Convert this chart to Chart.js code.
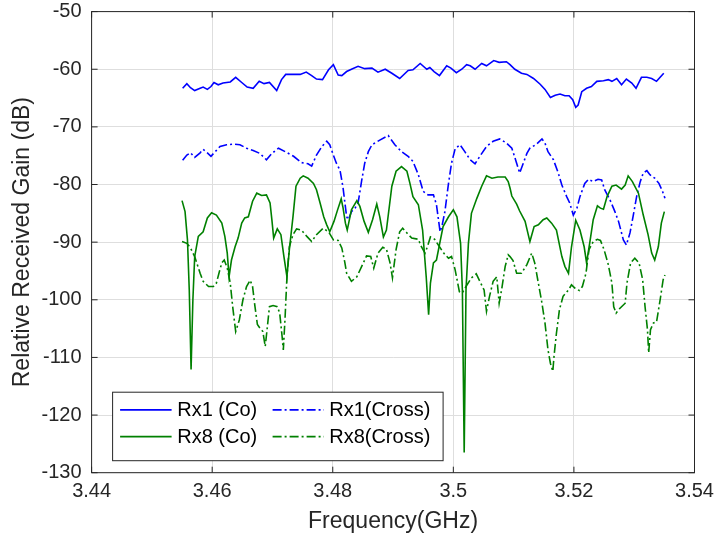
<!DOCTYPE html>
<html>
<head>
<meta charset="utf-8">
<script src="https://cdn.jsdelivr.net/npm/chart.js@4/dist/chart.umd.min.js"></script>
<style>
  body { margin: 0; background: #fff; }
  #wrap { width: 716px; height: 544px; }
</style>
</head>
<body>
<div id="wrap"><canvas id="mycanvas" width="716" height="544"></canvas></div>
<script>
// tick values
var xTicks = [3.44, 3.46, 3.48, 3.50, 3.52, 3.54];
var yTicks = [-130, -120, -110, -100, -90, -80, -70, -60, -50];

// Rx1 (Co)
var rx1CoFreq = [3.4551,3.4558,3.4564,3.4571,3.4580,3.4585,3.4592,3.4598,3.4603,3.4610,3.4618,3.4630,3.4639,3.4649,3.4658,3.4668,3.4678,3.4686,3.4695,3.4707,3.4715,3.4722,3.4735,3.4746,3.4756,3.4765,3.4773,3.4783,3.4793,3.4801,3.4809,3.4815,3.4823,3.4831,3.4842,3.4853,3.4865,3.4875,3.4887,3.4898,3.4911,3.4925,3.4933,3.4945,3.4956,3.4961,3.4968,3.4977,3.4989,3.4996,3.5005,3.5014,3.5022,3.5028,3.5036,3.5047,3.5055,3.5067,3.5076,3.5088,3.5094,3.5102,3.5113,3.5122,3.5133,3.5144,3.5152,3.5161,3.5169,3.5177,3.5185,3.5192,3.5198,3.5203,3.5207,3.5213,3.5221,3.5229,3.5238,3.5249,3.5257,3.5263,3.5271,3.5279,3.5287,3.5296,3.5303,3.5312,3.5321,3.5329,3.5337,3.5349];
var rx1CoGain = [-63.3,-62.5,-63.2,-63.7,-63.3,-63.1,-63.5,-63.0,-62.3,-62.7,-62.4,-62.2,-61.4,-62.3,-63.1,-63.3,-62.1,-62.5,-62.3,-63.7,-61.8,-60.9,-60.9,-60.9,-60.5,-61.1,-61.7,-61.8,-60.1,-59.2,-61.0,-61.1,-60.4,-60.0,-59.5,-59.9,-59.8,-60.5,-60.0,-60.7,-61.6,-60.2,-60.1,-59.0,-60.0,-59.7,-60.4,-61.1,-59.4,-59.8,-60.6,-60.0,-59.2,-59.4,-60.0,-59.0,-59.4,-58.5,-58.8,-58.7,-59.2,-60.0,-60.7,-60.9,-61.6,-62.6,-63.5,-64.9,-64.5,-64.3,-64.6,-64.6,-65.3,-66.6,-66.2,-63.9,-63.3,-63.0,-62.1,-62.0,-61.8,-62.1,-61.6,-62.7,-61.7,-62.4,-63.3,-61.4,-61.4,-61.6,-62.1,-60.7];

// Rx1 (Cross)
var rx1CrossFreq = [3.4551,3.4558,3.4564,3.4571,3.4580,3.4585,3.4592,3.4598,3.4605,3.4613,3.4624,3.4635,3.4646,3.4657,3.4668,3.4679,3.4690,3.4699,3.4710,3.4721,3.4735,3.4748,3.4759,3.4765,3.4773,3.4782,3.4790,3.4795,3.4801,3.4806,3.4812,3.4817,3.4823,3.4826,3.4831,3.4837,3.4842,3.4848,3.4853,3.4859,3.4865,3.4878,3.4892,3.4903,3.4914,3.4925,3.4933,3.4942,3.4950,3.4958,3.4967,3.4972,3.4978,3.4981,3.4986,3.4992,3.4997,3.5003,3.5011,3.5019,3.5028,3.5036,3.5044,3.5055,3.5066,3.5077,3.5088,3.5097,3.5105,3.5110,3.5116,3.5122,3.5127,3.5138,3.5147,3.5152,3.5157,3.5166,3.5174,3.5180,3.5188,3.5193,3.5199,3.5205,3.5210,3.5218,3.5224,3.5232,3.5240,3.5246,3.5251,3.5260,3.5268,3.5274,3.5282,3.5287,3.5293,3.5298,3.5304,3.5310,3.5315,3.5321,3.5326,3.5334,3.5341,3.5347,3.5351];
var rx1CrossGain = [-75.8,-74.9,-74.5,-75.3,-74.5,-73.9,-74.5,-75.1,-74.3,-73.4,-73.1,-73.0,-73.1,-73.7,-74.1,-74.6,-75.7,-74.6,-73.7,-74.3,-75.1,-76.2,-76.4,-76.8,-74.9,-73.4,-72.5,-73.1,-74.9,-76.3,-77.5,-80.5,-85.6,-86.1,-84.7,-84.1,-83.2,-79.3,-76.3,-74.3,-73.1,-72.3,-71.5,-73.1,-74.3,-75.1,-76.0,-78.3,-81.2,-81.8,-81.8,-83.5,-88.2,-87.3,-84.7,-79.8,-76.3,-73.8,-73.1,-74.3,-75.7,-76.4,-75.1,-73.4,-72.5,-72.1,-72.8,-73.7,-76.3,-78.0,-76.3,-74.6,-73.7,-73.0,-72.1,-72.8,-74.3,-75.7,-78.0,-80.1,-82.1,-83.2,-85.3,-84.1,-82.1,-79.8,-79.1,-79.5,-79.1,-79.2,-80.9,-82.7,-84.7,-86.4,-89.6,-90.5,-88.4,-85.6,-82.1,-79.5,-78.0,-77.6,-78.3,-78.9,-79.8,-81.2,-82.4];

// Rx8 (Co)
var rx8CoFreq = [3.4550,3.4555,3.4559,3.4562,3.4565,3.4568,3.4571,3.4577,3.4585,3.4592,3.4599,3.4607,3.4616,3.4621,3.4625,3.4628,3.4632,3.4638,3.4643,3.4649,3.4654,3.4660,3.4667,3.4674,3.4682,3.4690,3.4696,3.4699,3.4702,3.4708,3.4714,3.4719,3.4724,3.4728,3.4734,3.4739,3.4746,3.4751,3.4759,3.4768,3.4773,3.4779,3.4785,3.4790,3.4795,3.4802,3.4808,3.4814,3.4817,3.4821,3.4824,3.4831,3.4840,3.4845,3.4852,3.4859,3.4866,3.4873,3.4878,3.4884,3.4889,3.4898,3.4905,3.4914,3.4923,3.4928,3.4933,3.4942,3.4949,3.4955,3.4959,3.4962,3.4967,3.4972,3.4978,3.4983,3.4992,3.5000,3.5006,3.5012,3.5015,3.5018,3.5021,3.5025,3.5030,3.5039,3.5047,3.5055,3.5064,3.5074,3.5086,3.5091,3.5094,3.5097,3.5105,3.5110,3.5119,3.5127,3.5134,3.5141,3.5149,3.5155,3.5163,3.5171,3.5180,3.5185,3.5191,3.5196,3.5203,3.5210,3.5217,3.5221,3.5227,3.5232,3.5239,3.5244,3.5249,3.5255,3.5263,3.5270,3.5279,3.5285,3.5290,3.5297,3.5307,3.5315,3.5323,3.5329,3.5334,3.5340,3.5345,3.5350];
var rx8CoGain = [-82.8,-84.7,-89.6,-98.3,-112.1,-100.0,-92.5,-89.0,-88.2,-85.8,-84.9,-85.3,-86.7,-89.0,-91.9,-96.0,-93.1,-90.8,-89.3,-86.7,-85.8,-85.6,-82.9,-81.5,-81.9,-81.8,-83.2,-86.1,-89.3,-87.7,-88.7,-92.5,-96.0,-91.3,-85.6,-80.3,-78.9,-78.5,-78.9,-79.8,-80.9,-83.2,-85.6,-87.0,-88.2,-86.4,-84.4,-82.5,-84.0,-86.7,-87.9,-84.4,-82.8,-83.8,-86.4,-88.3,-86.1,-83.4,-85.6,-89.1,-87.9,-80.3,-77.7,-76.9,-77.7,-79.8,-82.1,-83.5,-87.9,-96.0,-102.6,-97.1,-93.6,-93.1,-89.9,-87.3,-85.6,-84.4,-85.6,-90.2,-98.3,-126.5,-98.3,-90.2,-85.0,-82.4,-80.3,-78.5,-78.9,-78.7,-78.7,-79.5,-80.6,-82.0,-83.4,-84.6,-86.4,-89.9,-87.3,-87.0,-86.1,-85.8,-86.7,-87.9,-92.5,-94.2,-95.4,-90.8,-86.2,-87.9,-90.8,-93.6,-89.6,-86.1,-83.7,-84.1,-84.3,-82.1,-80.3,-80.1,-80.8,-80.1,-78.5,-79.5,-81.5,-85.3,-88.7,-91.9,-93.1,-90.8,-86.7,-84.7];

// Rx8 (Cross)
var rx8CrossFreq = [3.4550,3.4558,3.4564,3.4571,3.4580,3.4585,3.4594,3.4602,3.4607,3.4612,3.4616,3.4620,3.4625,3.4630,3.4634,3.4639,3.4645,3.4651,3.4657,3.4663,3.4667,3.4671,3.4675,3.4679,3.4684,3.4688,3.4691,3.4695,3.4701,3.4708,3.4712,3.4716,3.4718,3.4721,3.4724,3.4728,3.4734,3.4740,3.4748,3.4757,3.4765,3.4773,3.4784,3.4793,3.4801,3.4809,3.4815,3.4820,3.4823,3.4831,3.4840,3.4848,3.4856,3.4863,3.4868,3.4875,3.4883,3.4889,3.4895,3.4899,3.4905,3.4911,3.4916,3.4923,3.4931,3.4942,3.4947,3.4953,3.4957,3.4962,3.4969,3.4977,3.4984,3.4992,3.4997,3.5003,3.5010,3.5015,3.5021,3.5030,3.5038,3.5044,3.5051,3.5055,3.5060,3.5066,3.5072,3.5076,3.5080,3.5086,3.5091,3.5094,3.5099,3.5105,3.5113,3.5122,3.5130,3.5135,3.5141,3.5147,3.5152,3.5157,3.5161,3.5165,3.5167,3.5171,3.5176,3.5182,3.5191,3.5196,3.5202,3.5209,3.5214,3.5220,3.5225,3.5232,3.5239,3.5244,3.5250,3.5257,3.5263,3.5266,3.5270,3.5276,3.5285,3.5288,3.5294,3.5301,3.5308,3.5314,3.5318,3.5322,3.5324,3.5327,3.5332,3.5337,3.5343,3.5348,3.5351];
var rx8CrossGain = [-89.9,-90.2,-91.0,-92.5,-95.4,-96.8,-97.7,-97.7,-97.1,-95.1,-93.6,-93.1,-94.5,-97.1,-101.2,-105.5,-103.5,-100.0,-97.7,-96.6,-97.7,-101.2,-104.3,-104.9,-105.5,-108.1,-105.2,-101.2,-101.0,-101.2,-102.3,-106.4,-108.7,-102.9,-96.0,-90.8,-88.7,-87.7,-87.9,-89.0,-89.9,-88.7,-87.6,-88.2,-89.6,-89.7,-91.0,-93.5,-95.4,-96.8,-96.0,-94.2,-92.4,-92.5,-94.5,-91.9,-90.9,-91.2,-93.6,-96.2,-91.3,-88.2,-87.6,-88.4,-89.3,-89.5,-90.8,-91.9,-90.8,-89.1,-89.5,-90.8,-91.9,-92.8,-92.5,-94.8,-98.6,-98.8,-97.7,-96.2,-95.5,-96.8,-98.3,-102.0,-99.4,-96.8,-96.0,-100.6,-98.3,-94.2,-92.2,-92.5,-93.2,-95.4,-95.4,-93.9,-91.9,-93.6,-97.1,-100.6,-104.0,-108.7,-111.0,-112.4,-109.8,-105.8,-101.7,-99.4,-98.3,-97.4,-98.0,-98.4,-97.7,-95.4,-91.3,-89.9,-89.5,-89.7,-91.3,-93.9,-97.1,-101.2,-102.3,-101.5,-100.6,-97.1,-93.6,-92.8,-93.6,-96.5,-101.2,-105.2,-109.2,-105.2,-104.0,-103.9,-100.0,-96.5,-95.7];

var labels = ['Rx1 (Co)', 'Rx1(Cross)', 'Rx8 (Co)', 'Rx8(Cross)'];

function pairUp(xs, ys) {
    var pts = [];
    for (var i = 0; i < xs.length; i++) {
        pts.push({ x: xs[i], y: ys[i] });
    }
    return pts;
}

var blue = '#0000ff';
var green = '#008000';
var dashDot = [9, 3, 2, 3];
var axisColor = '#262626';

Chart.defaults.font.family = '"Liberation Sans", Arial, Helvetica, sans-serif';
Chart.defaults.color = axisColor;

var series = [
    { label: labels[0], data: pairUp(rx1CoFreq, rx1CoGain), borderColor: blue, borderDash: [], order: 3 },
    { label: labels[1], data: pairUp(rx1CrossFreq, rx1CrossGain), borderColor: blue, borderDash: dashDot, order: 2 },
    { label: labels[2], data: pairUp(rx8CoFreq, rx8CoGain), borderColor: green, borderDash: [], order: 1 },
    { label: labels[3], data: pairUp(rx8CrossFreq, rx8CrossGain), borderColor: green, borderDash: dashDot, order: 0 }
];
series.forEach(function (s) {
    s.borderWidth = 1.6;
    s.pointRadius = 0;
    s.tension = 0;
    s.fill = false;
});

// box, inward ticks and legend, drawn the matlab way
var matlabFrame = {
    id: 'matlabFrame',
    afterDatasetsDraw: function (chart) {
        var ctx = chart.ctx;
        var a = chart.chartArea;
        var xs = chart.scales.x, ys = chart.scales.y;
        ctx.save();
        ctx.strokeStyle = axisColor;
        ctx.lineWidth = 1;
        ctx.setLineDash([]);
        ctx.strokeRect(a.left, a.top, a.right - a.left, a.bottom - a.top);

        var len = 6;
        ctx.beginPath();
        xTicks.forEach(function (v) {
            var px = xs.getPixelForValue(v);
            ctx.moveTo(px, a.bottom); ctx.lineTo(px, a.bottom - len);
            ctx.moveTo(px, a.top); ctx.lineTo(px, a.top + len);
        });
        yTicks.forEach(function (v) {
            var py = ys.getPixelForValue(v);
            ctx.moveTo(a.left, py); ctx.lineTo(a.left + len, py);
            ctx.moveTo(a.right, py); ctx.lineTo(a.right - len, py);
        });
        ctx.stroke();

        // legend box
        var bl = a.left + 21, bt = a.bottom - 80.5, bw = 330.5, bh = 68.5;
        ctx.fillStyle = '#ffffff';
        ctx.fillRect(bl, bt, bw, bh);
        ctx.strokeStyle = axisColor;
        ctx.strokeRect(bl, bt, bw, bh);
        ctx.font = '20px "Liberation Sans", Arial, sans-serif';
        ctx.textBaseline = 'middle';
        ctx.fillStyle = '#000000';
        var rowsY = [bt + 17.7, bt + 44.4];
        var cols = [[7.5, 59, 64.6], [160, 211.3, 216.6]];
        series.forEach(function (s, i) {
            var row = Math.floor(i / 2), col = i % 2;
            var yy = rowsY[row];
            ctx.strokeStyle = s.borderColor;
            ctx.lineWidth = 1.6;
            ctx.setLineDash(s.borderDash);
            ctx.beginPath();
            ctx.moveTo(bl + cols[col][0], yy);
            ctx.lineTo(bl + cols[col][1], yy);
            ctx.stroke();
            ctx.setLineDash([]);
            ctx.fillText(s.label, bl + cols[col][2], yy + 1);
        });
        ctx.restore();
    }
};

var ctx = document.getElementById('mycanvas');
var lineGraph = new Chart(ctx, {
    type: 'line',
    data: { datasets: series },
    plugins: [matlabFrame],
    options: {
        responsive: false,
        animation: false,
        layout: { padding: { left: 0, top: 11.6, right: 21.5, bottom: 0 } },
        plugins: { legend: { display: false }, tooltip: { enabled: false } },
        scales: {
            x: {
                type: 'linear',
                min: 3.44,
                max: 3.54,
                afterBuildTicks: function (scale) {
                    scale.ticks = xTicks.map(function (v) { return { value: v }; });
                },
                afterFit: function (scale) {
                    scale.height = 71.3;
                    scale.paddingLeft = 0; scale.paddingRight = 0;
                    scale.paddingTop = 0; scale.paddingBottom = 0;
                },
                ticks: {
                    autoSkip: false,
                    maxRotation: 0,
                    padding: 7,
                    font: { size: 20 },
                    callback: function (v) { return String(+Number(v).toFixed(2)); }
                },
                grid: { color: '#dedede', lineWidth: 1, drawTicks: false },
                border: { display: false },
                title: {
                    display: true,
                    text: 'Frequency(GHz)',
                    font: { size: 23 },
                    padding: { top: 0, bottom: 9 }
                }
            },
            y: {
                type: 'linear',
                min: -130,
                max: -50,
                afterBuildTicks: function (scale) {
                    scale.ticks = yTicks.map(function (v) { return { value: v }; });
                },
                afterFit: function (scale) {
                    scale.width = 91.6;
                    scale.paddingLeft = 0; scale.paddingRight = 0;
                    scale.paddingTop = 0; scale.paddingBottom = 0;
                },
                ticks: {
                    padding: 10,
                    font: { size: 20 },
                    callback: function (v) { return String(v); }
                },
                grid: { color: '#dedede', lineWidth: 1, drawTicks: false },
                border: { display: false },
                title: {
                    display: true,
                    text: 'Relative Received Gain (dB)',
                    font: { size: 23 },
                    padding: { top: 9, bottom: 0 }
                }
            }
        }
    }
});
</script>
</body>
</html>
